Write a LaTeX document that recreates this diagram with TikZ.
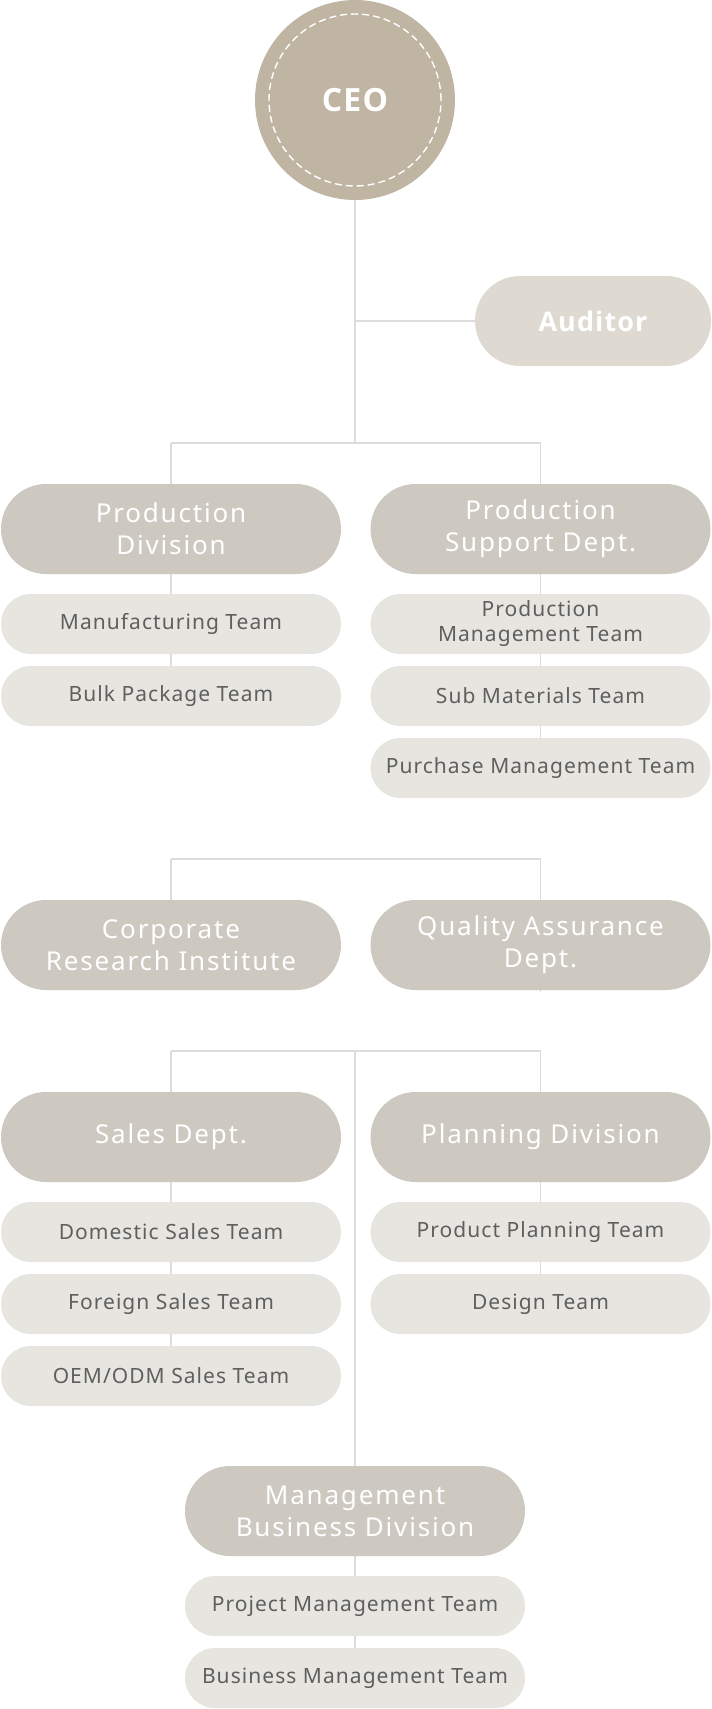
\documentclass[tikz,border=0pt]{standalone}
\usepackage{fontspec}
\setmainfont{Noto Sans}
\newfontfamily\divfont[LetterSpace=7]{Noto Sans}
\newfontfamily\teamfont[LetterSpace=5]{Noto Sans}
\newfontfamily\boldfont[LetterSpace=4]{Open Sans}
\definecolor{ceocol}{HTML}{BFB5A2}
\definecolor{audcol}{HTML}{DEDAD2}
\definecolor{divcol}{HTML}{CDC9C0}
\definecolor{teamcol}{HTML}{E7E5DF}
\definecolor{linecol}{HTML}{DCDCDC}
\definecolor{teamtext}{HTML}{5F5F5F}
\pgfdeclarelayer{bg}
\pgfsetlayers{bg,main}
\tikzset{
  ceobox/.style={circle, fill=ceocol, minimum size=200pt, inner sep=0pt, text=white,
    font=\boldfont\bfseries\fontsize{32}{36}\selectfont},
  audbox/.style={rectangle, rounded corners=45pt, fill=audcol, minimum width=236pt, minimum height=90pt,
    inner sep=0pt, text=white, font=\boldfont\bfseries\fontsize{27}{30}\selectfont},
  divbox/.style={rectangle, rounded corners=45pt, fill=divcol, minimum width=340pt, minimum height=90pt,
    inner sep=0pt, text=white, align=center, font=\divfont\fontsize{26}{32}\selectfont},
  teambox/.style={rectangle, rounded corners=30pt, fill=teamcol, minimum width=340pt, minimum height=60pt,
    inner sep=0pt, text=teamtext, align=center, font=\teamfont\fontsize{21}{25}\selectfont},
  conn/.style={draw=linecol, line width=1.6pt}
}
\begin{document}
\begin{tikzpicture}[x=1pt, y=-1pt]
\useasboundingbox (0,0) rectangle (712,1709);
% CEO
\node[ceobox] (ceo) at (355,100) {CEO};
\draw[white, line width=1.4pt, dash pattern=on 7pt off 4pt] (ceo.center) circle[radius=86pt];
\node[audbox] (aud) at (593,321) {Auditor};
% production
\node[divbox] (pd) at (171,529) {Production\\Division};
\node[divbox] (psd) at (540.5,529) {Production\\Support Dept.};
\node[teambox] (mfg) at (171,624) {Manufacturing Team};
\node[teambox] (bulk) at (171,696) {Bulk Package Team};
\node[teambox] (pmt) at (540.5,624) {Production\\Management Team};
\node[teambox] (sub) at (540.5,696) {Sub Materials Team};
\node[teambox] (pur) at (540.5,768) {Purchase Management Team};
% research / QA
\node[divbox] (cri) at (171,945) {Corporate\\Research Institute};
\node[divbox] (qa) at (540.5,945) {Quality Assurance\\Dept.};
% sales / planning
\node[divbox] (sales) at (171,1137) {Sales Dept.};
\node[divbox] (plan) at (540.5,1137) {Planning Division};
\node[teambox] (dom) at (171,1232) {Domestic Sales Team};
\node[teambox] (for) at (171,1304) {Foreign Sales Team};
\node[teambox] (oem) at (171,1376) {OEM/ODM Sales Team};
\node[teambox] (ppt) at (540.5,1232) {Product Planning Team};
\node[teambox] (des) at (540.5,1304) {Design Team};
% management
\node[divbox] (mbd) at (355,1511) {Management\\Business Division};
\node[teambox] (prj) at (355,1606) {Project Management Team};
\node[teambox] (bmt) at (355,1678) {Business Management Team};
% coordinates
\coordinate (j1) at (355,443);
\coordinate (j1l) at (171,443);
\coordinate (j1r) at (540.5,443);
\coordinate (j2l) at (171,859);
\coordinate (j2r) at (540.5,859);
\coordinate (j3) at (355,1051);
\coordinate (j3l) at (171,1051);
\coordinate (j3r) at (540.5,1051);
\begin{pgfonlayer}{bg}
\draw[conn] (ceo.south) -- (j1);
\draw[conn] (ceo.south |- aud.west) -- (aud.west);
\draw[conn] (j1l) -- (j1r);
\draw[conn] (j1l) -- (pd.north);
\draw[conn] (j1r) -- (psd.north);
\draw[conn] (pd.center) -- (bulk.center);
\draw[conn] (psd.center) -- (pur.center);
\draw[conn] (j2l) -- (j2r);
\draw[conn] (j2l) -- (cri.north);
\draw[conn] (j2r) -- ([yshift=-2pt]qa.south);
\draw[conn] (j3l) -- (j3r);
\draw[conn] (j3l) -- (sales.north);
\draw[conn] (j3r) -- (plan.north);
\draw[conn] (j3) -- (mbd.north);
\draw[conn] (sales.center) -- (oem.center);
\draw[conn] (plan.center) -- (des.center);
\draw[conn] (mbd.center) -- (bmt.center);
\end{pgfonlayer}
\end{tikzpicture}
\end{document}
